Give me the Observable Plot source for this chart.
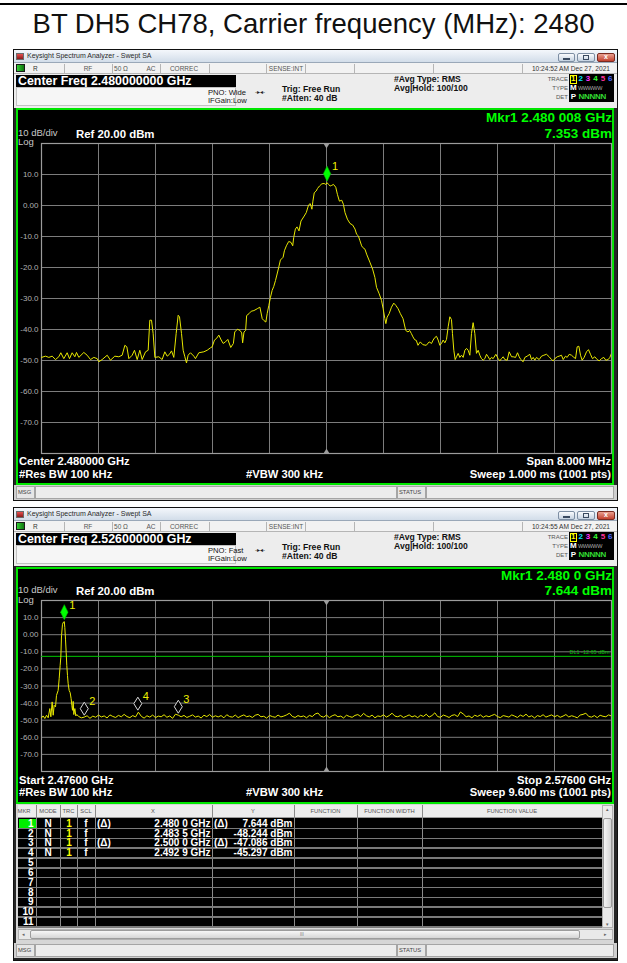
<!DOCTYPE html>
<html><head><meta charset="utf-8">
<script src="https://cdn.jsdelivr.net/npm/d3@7"></script>
<script src="https://cdn.jsdelivr.net/npm/@observablehq/plot@0.6"></script>
<style>
html,body{margin:0;padding:0;background:#fff;}
#page{position:relative;width:627px;height:963px;overflow:hidden;font-family:"Liberation Sans",Arial,sans-serif;}
.a{position:absolute;white-space:nowrap;box-sizing:border-box;}
</style></head><body><div id="page"></div>
<script>
// ================= DATA =================
const pageTitle = "BT DH5 CH78, Carrier frequency (MHz): 2480";
const levelTicks = [10, 0, -10, -20, -30, -40, -50, -60, -70];
const levelRange = [-80, 20];

// Screen 1 : center 2480 MHz, span 8 MHz  (frequency MHz, level dBm)
const span1 = [2476, 2484];
const trace1Low = [[2476.000,-49.0],[2476.056,-48.6],[2476.103,-49.0],[2476.150,-48.6],[2476.196,-49.7],[2476.243,-48.8],[2476.271,-47.5],[2476.313,-49.4],[2476.360,-47.5],[2476.393,-49.4],[2476.430,-47.5],[2476.468,-48.8],[2476.491,-47.4],[2476.524,-49.0],[2476.594,-47.4],[2476.641,-48.3],[2476.688,-49.7],[2476.734,-49.0],[2476.781,-49.4],[2476.805,-50.4],[2476.851,-49.7],[2476.922,-48.3],[2476.968,-49.9],[2477.029,-48.6],[2477.085,-48.8],[2477.132,-48.3],[2477.170,-45.1],[2477.198,-45.6],[2477.226,-49.4],[2477.273,-48.3],[2477.305,-46.7],[2477.343,-49.7],[2477.380,-46.7],[2477.413,-49.7],[2477.460,-47.2],[2477.497,-46.7],[2477.520,-37.0],[2477.544,-37.0],[2477.567,-41.3],[2477.591,-49.0],[2477.647,-48.8],[2477.693,-49.7],[2477.731,-47.2],[2477.764,-48.6],[2477.796,-48.0],[2477.825,-46.9],[2477.857,-49.0],[2477.890,-41.3],[2477.918,-35.4],[2477.937,-35.9],[2477.965,-41.3],[2477.988,-46.7],[2478.012,-48.8],[2478.035,-50.8],[2478.058,-48.3],[2478.091,-47.5],[2478.138,-48.6],[2478.161,-49.4],[2478.208,-47.5],[2478.278,-47.2],[2478.325,-46.7],[2478.372,-45.9],[2478.395,-45.6],[2478.428,-43.4],[2478.456,-42.9],[2478.489,-41.8],[2478.522,-43.4],[2478.550,-44.5],[2478.582,-44.0],[2478.615,-43.2]];
const trace1Main = [[2478.656,-45.8],[2478.693,-44.5],[2478.712,-40.8],[2478.749,-39.9],[2478.786,-40.3],[2478.810,-41.1],[2478.823,-44.3],[2478.842,-40.8],[2478.865,-40.3],[2478.879,-35.5],[2478.912,-34.9],[2478.944,-34.1],[2478.981,-33.9],[2479.028,-33.3],[2479.065,-32.8],[2479.098,-36.5],[2479.121,-37.1],[2479.149,-37.6],[2479.167,-34.9],[2479.191,-32.2],[2479.214,-29.6],[2479.237,-27.4],[2479.260,-26.1],[2479.284,-24.2],[2479.307,-22.1],[2479.330,-19.9],[2479.353,-17.6],[2479.391,-16.7],[2479.409,-14.6],[2479.437,-13.0],[2479.470,-11.6],[2479.502,-11.9],[2479.526,-13.0],[2479.540,-10.3],[2479.563,-7.6],[2479.586,-6.9],[2479.614,-8.2],[2479.642,-5.0],[2479.679,-3.7],[2479.716,-2.3],[2479.749,0.2],[2479.772,0.6],[2479.795,-1.2],[2479.809,1.4],[2479.828,4.1],[2479.856,4.7],[2479.874,5.5],[2479.902,6.3],[2479.935,7.0],[2479.967,7.1],[2479.991,6.8],[2480.008,7.353],[2480.028,6.8],[2480.051,6.3],[2480.074,6.5],[2480.098,6.8],[2480.130,5.9],[2480.153,3.6],[2480.181,1.4],[2480.214,1.7],[2480.237,0.4],[2480.260,-2.3],[2480.293,-4.4],[2480.330,-5.8],[2480.367,-6.3],[2480.400,-7.6],[2480.423,-9.3],[2480.447,-9.8],[2480.470,-11.4],[2480.493,-13.0],[2480.507,-13.5],[2480.540,-14.1],[2480.563,-15.7],[2480.609,-18.3],[2480.647,-20.5],[2480.679,-23.2],[2480.702,-26.4],[2480.740,-28.5],[2480.772,-30.6],[2480.795,-33.3],[2480.819,-36.5],[2480.833,-38.1],[2480.851,-36.0],[2480.879,-34.9],[2480.912,-32.8],[2480.944,-31.5],[2480.972,-32.2],[2481.005,-33.3],[2481.037,-34.9],[2481.074,-36.5],[2481.112,-40.3],[2481.144,-40.8],[2481.167,-40.3],[2481.191,-41.3],[2481.214,-42.4],[2481.237,-43.3],[2481.260,-43.5],[2481.284,-45.1],[2481.316,-44.0],[2481.353,-44.9],[2481.400,-45.1]];
const trace1High = [[2481.441,-44.0],[2481.474,-44.5],[2481.497,-43.4],[2481.520,-42.6],[2481.544,-42.2],[2481.567,-43.4],[2481.591,-45.1],[2481.614,-44.5],[2481.637,-43.4],[2481.661,-44.3],[2481.684,-43.2],[2481.708,-39.1],[2481.731,-35.9],[2481.754,-36.8],[2481.768,-41.3],[2481.787,-46.7],[2481.806,-49.7],[2481.825,-48.8],[2481.848,-47.7],[2481.871,-49.0],[2481.895,-48.3],[2481.918,-49.0],[2481.942,-46.7],[2481.965,-46.1],[2481.988,-46.7],[2482.012,-48.3],[2482.035,-41.3],[2482.058,-37.8],[2482.082,-41.3],[2482.105,-47.7],[2482.129,-46.7],[2482.152,-48.3],[2482.175,-49.4],[2482.199,-49.9],[2482.222,-49.4],[2482.246,-48.0],[2482.269,-48.8],[2482.292,-49.7],[2482.316,-49.0],[2482.339,-49.4],[2482.377,-48.0],[2482.409,-49.4],[2482.433,-50.1],[2482.456,-49.4],[2482.480,-48.8],[2482.503,-49.7],[2482.536,-49.9],[2482.564,-47.2],[2482.597,-48.8],[2482.620,-48.8],[2482.653,-49.0],[2482.681,-47.5],[2482.704,-48.8],[2482.727,-49.7],[2482.760,-50.4],[2482.784,-49.0],[2482.816,-48.6],[2482.854,-48.0],[2482.877,-49.7],[2482.901,-49.0],[2482.924,-49.9],[2482.947,-49.0],[2482.985,-49.7],[2483.018,-48.6],[2483.050,-48.3],[2483.088,-48.0],[2483.125,-48.8],[2483.158,-49.7],[2483.181,-50.1],[2483.205,-49.4],[2483.238,-48.8],[2483.265,-48.6],[2483.298,-48.3],[2483.322,-49.7],[2483.354,-48.6],[2483.378,-49.0],[2483.406,-48.0],[2483.439,-48.3],[2483.462,-48.8],[2483.495,-49.4],[2483.518,-45.6],[2483.542,-45.4],[2483.565,-48.3],[2483.588,-49.9],[2483.616,-49.0],[2483.649,-47.2],[2483.677,-46.5],[2483.705,-48.0],[2483.733,-49.4],[2483.766,-48.8],[2483.799,-49.7],[2483.827,-50.1],[2483.860,-49.4],[2483.892,-49.0],[2483.920,-49.9],[2483.953,-49.7],[2483.977,-49.0],[2484.000,-47.7]];
const marker1 = {id: "1", f: 2480.008, v: 7.353};

// Screen 2 : start 2476 MHz, stop 2576 MHz
const span2 = [2476, 2576];
const trace2Peak = [[2476.00,-48.6],[2476.29,-47.5],[2476.58,-49.0],[2476.88,-47.1],[2477.17,-48.6],[2477.46,-43.2],[2477.64,-48.0],[2477.87,-39.3],[2478.05,-47.1],[2478.22,-41.3],[2478.46,-42.2],[2478.63,-35.5],[2478.92,-32.6],[2479.10,-25.8],[2479.27,-18.1],[2479.39,-13.2],[2479.51,-0.7],[2479.68,6.1],[2479.86,7.4],[2480.00,7.644],[2480.09,4.2],[2480.21,-2.6],[2480.33,-10.3],[2480.44,-18.1],[2480.56,-23.9],[2480.68,-28.7],[2480.85,-32.6],[2481.03,-33.9],[2481.20,-37.4],[2481.32,-41.3],[2481.44,-44.2],[2481.56,-39.0],[2481.67,-46.7],[2481.85,-43.2],[2482.02,-47.5],[2482.20,-46.7]];
const floorStart = 2482.5, floorStep = 0.5;   // sweep points every 0.5 MHz from 2482.5 MHz
const trace2Floor = [
 -47.8,-48.6,-48.2,-47.4,-48.9,-47.6,-48.3,-47.0,-48.1,-47.5,
 -48.7,-46.9,-47.8,-48.4,-47.2,-48.0,-46.6,-47.9,-48.5,-47.3,
 -48.1,-45.3,-47.7,-48.8,-47.4,-48.2,-47.0,-48.5,-47.6,-48.0,
 -46.8,-48.3,-47.5,-48.9,-46.5,-47.086,-48.0,-47.2,-48.4,-47.7,
 -46.9,-48.2,-47.6,-48.7,-47.1,-47.9,-46.7,-48.3,-47.4,-48.1,
 -47.3,-48.6,-46.8,-47.9,-48.2,-47.0,-48.5,-47.6,-46.9,-48.0,
 -47.5,-48.4,-47.1,-46.6,-48.0,-47.7,-48.8,-47.2,-47.9,-48.3,
 -47.0,-48.1,-47.6,-46.9,-45.9,-47.8,-48.4,-47.3,-48.0,-47.5,
 -48.6,-47.2,-47.9,-46.4,-45.8,-47.7,-48.2,-47.0,-48.5,-47.4,
 -46.8,-48.0,-47.6,-48.7,-47.1,-47.8,-48.3,-47.2,-46.7,-47.9,
 -46.0,-47.4,-48.1,-47.0,-48.6,-47.5,-47.9,-46.8,-48.2,-47.3,
 -45.9,-47.6,-48.0,-47.2,-48.4,-47.7,-46.9,-48.1,-47.4,-48.5,
 -47.1,-47.8,-46.5,-48.2,-47.3,-45.7,-47.9,-48.3,-47.0,-47.6,
 -48.4,-47.2,-46.8,-47.9,-45.2,-46.4,-48.0,-47.5,-48.6,-47.1,
 -47.8,-46.9,-48.3,-47.4,-48.0,-47.2,-46.6,-47.9,-48.5,-47.3,
 -47.7,-48.2,-46.9,-47.6,-48.4,-47.0,-47.8,-46.5,-48.1,-47.4,
 -48.7,-47.3,-47.9,-46.8,-48.2,-47.5,-46.9,-48.0,-47.2,-48.3,
 -47.6,-46.7,-48.1,-47.4,-47.9,-48.6,-47.0,-46.6,-45.9,-47.8,
 -48.2,-47.3,-48.5,-47.1,-47.7,-48.0,-46.9,-47.6];
const displayLine = -12.65;
const markers2 = [
  {id: "1", f: 2480.0, v: 7.644, delta: true},
  {id: "2", f: 2483.5, v: -48.244, delta: false},
  {id: "3", f: 2500.0, v: -47.086, delta: true},
  {id: "4", f: 2492.9, v: -45.297, delta: false}
];

// ================= HELPERS =================
const W = 627;
const page = document.getElementById("page");
function box(x, y, w, h, st) {
  const d = document.createElement("div"); d.className = "a";
  Object.assign(d.style, {left: x + "px", top: y + "px", width: w + "px", height: h + "px"}, st || {});
  page.appendChild(d); return d;
}
function txt(x, yc, s, o = {}) {
  const size = o.size || 8, lh = size * 1.15;
  const d = document.createElement("div"); d.className = "a"; d.textContent = s;
  Object.assign(d.style, {top: (yc - lh / 2) + "px", lineHeight: lh + "px", fontSize: size + "px",
    color: o.color || "#000", fontWeight: o.bold ? "bold" : "normal"});
  if (o.family) d.style.fontFamily = o.family;
  if (o.ls) d.style.letterSpacing = o.ls;
  if (o.align === "right") d.style.right = (W - x) + "px";
  else if (o.align === "center") {
    const half = Math.max(4, Math.min(x, W - x, o.half || 150));
    d.style.left = (x - half) + "px"; d.style.width = (2 * half) + "px"; d.style.textAlign = "center";
  }
  else d.style.left = x + "px";
  page.appendChild(d); return d;
}
const fmtGHz = (f, dec) => { const s = (f / 1000).toFixed(dec); return s.slice(0, 5) + " " + s.slice(5); };
const fmtLevel = d => d === 0 ? "0.00" : d.toFixed(1);

// ================= PAGE TITLE =================
box(0, 3, W, 2, {background: "#000"});
txt(313.5, 23.5, pageTitle, {size: 27.5, align: "center", color: "#111", half: 320});

// ================= ANALYZER WINDOW CHROME =================
function windowChrome(T, o) {
  box(13, 49 + T, 605, o.bottom - (49 + T), {background: "#262626", border: "1px solid #111"});
  box(14, 50 + T, 603, 13, {background: "linear-gradient(#f4f7fb,#d2dde9)", borderBottom: "1px solid #9aa8b8"});
  box(16, 53 + T, 8, 7, {background: "linear-gradient(#e85050,#8a1c1c)", border: "1px solid #6a6a6a"});
  txt(27, 56.5 + T, "Keysight Spectrum Analyzer - Swept SA", {size: 7, color: "#2a2a2a"});
  box(558, 53 + T, 17, 9, {background: "linear-gradient(#fbfcfe,#c5d2e1)", border: "1px solid #7d8ea3", borderRadius: "2px"});
  box(577, 53 + T, 18, 9, {background: "linear-gradient(#fbfcfe,#c5d2e1)", border: "1px solid #7d8ea3", borderRadius: "2px"});
  box(597, 53 + T, 18, 9, {background: "linear-gradient(#eaa090,#c2402e)", border: "1px solid #7a2a20", borderRadius: "2px"});
  box(563, 58 + T, 7, 2, {background: "#3a4a60"});
  box(583, 55 + T, 6, 5, {border: "1px solid #3a4a60"});
  txt(606, 57.5 + T, "x", {size: 7, bold: true, color: "#fff", align: "center"});
  // status row
  box(14, 63 + T, 603, 11, {background: "#f2f2f2", borderBottom: "1px solid #b5b5b5"});
  [64, 112, 160, 209, 266, 305, 354, 433, 522].forEach(x => box(x, 64 + T, 1, 9, {background: "#b5b5b5"}));
  box(16, 64 + T, 9, 8, {background: "#1a1a1a"});
  box(17, 65 + T, 7, 6, {background: "linear-gradient(90deg,#33cc33,#117711)"});
  txt(33, 68.5 + T, "R", {size: 6.5, color: "#333"});
  [["RF", 88], ["50 Ω", 121], ["AC", 151], ["CORREC", 184], ["SENSE:INT", 286]].forEach(([s, x]) => txt(x, 68.5 + T, s, {size: 6.5, color: "#555", align: "center", half: 24}));
  txt(610, 68.5 + T, o.time, {size: 6.6, color: "#333", align: "right"});
  // measurement bar
  box(14, 74 + T, 603, 34, {background: "#ededed"});
  box(16, 75 + T, 220, 12, {background: "#000"});
  txt(18, 81 + T, o.centerFreq, {size: 12.4, bold: true, color: "#fff"});
  box(16, 87 + T, 220, 19, {background: "#f6f6f6", border: "1px solid #c2c2c2"});
  txt(208, 93 + T, o.pno, {size: 7.6, color: "#111"});
  txt(208, 101.5 + T, "IFGain:Low", {size: 7.6, color: "#111"});
  txt(255, 92.5 + T, "-▸◂-", {size: 6, color: "#222"});
  txt(282, 90 + T, "Trig: Free Run", {size: 8.6, bold: true, color: "#111"});
  txt(282, 99 + T, "#Atten: 40 dB", {size: 8.6, bold: true, color: "#111"});
  txt(394, 80 + T, "#Avg Type: RMS", {size: 8.6, bold: true, color: "#111"});
  txt(394, 89 + T, "Avg|Hold: 100/100", {size: 8.6, bold: true, color: "#111"});
  txt(568, 79 + T, "TRACE", {size: 6, color: "#555", align: "right"});
  txt(568, 88 + T, "TYPE", {size: 6, color: "#555", align: "right"});
  txt(568, 97 + T, "DET", {size: 6, color: "#555", align: "right"});
  box(569, 74 + T, 45, 28, {background: "#000"});
  const tc = ["#ffff00", "#00e5ff", "#ff33ff", "#33ff33", "#ff3399", "#4d6bff"];
  tc.forEach((c, i) => txt(573.3 + 7.4 * i, 79 + T, String(i + 1), {size: 8, bold: true, color: c, align: "center", half: 3.5}));
  box(570, 74.5 + T, 7, 9, {border: "1px solid #ffff00"});
  txt(573.3, 88 + T, "M", {size: 8, bold: true, color: "#fff", align: "center", half: 4});
  txt(578, 88 + T, "WWWWW", {size: 5.5, color: "#aaa", ls: "-0.4px"});
  txt(573.3, 97 + T, "P", {size: 8, bold: true, color: "#fff", align: "center", half: 4});
  txt(578.5, 97 + T, "NNNNN", {size: 8, bold: true, color: "#33dd33", ls: "-0.3px"});
  // display area
  box(16, o.dispTop, 598, o.dispBottom - o.dispTop, {background: "#000", border: "2px solid #00e600"});
  txt(612, o.mkrY, o.mkrLine1, {size: 13.5, bold: true, color: "#00ff00", align: "right"});
  txt(612, o.mkrY + o.mkrGap, o.mkrLine2, {size: 13.5, bold: true, color: "#00ff00", align: "right"});
  txt(18, o.refY - 1.5, "10 dB/div", {size: 9.5, color: "#c8c8c8"});
  txt(76, o.refY, "Ref 20.00 dBm", {size: 11.4, bold: true, color: "#fff"});
  txt(18, o.refY + 8, "Log", {size: 9.5, color: "#c8c8c8"});
  txt(19, o.botY, o.botLeft, {size: 11.2, bold: true, color: "#fff"});
  txt(611, o.botY, o.botRight, {size: 11.2, bold: true, color: "#fff", align: "right"});
  txt(19, o.botY + 12.5, "#Res BW 100 kHz", {size: 11.2, bold: true, color: "#fff"});
  txt(246, o.botY + 12.5, "#VBW 300 kHz", {size: 11.2, bold: true, color: "#fff"});
  txt(611, o.botY + 12.5, o.sweep, {size: 11.2, bold: true, color: "#fff", align: "right"});
  // message bar
  const m = o.msgTop;
  box(14, m, 603, 15, {background: "#cfcfcf"});
  box(16, m + 1, 19, 13, {background: "#e6e6e6", border: "1px solid #a5a5a5"});
  box(35, m + 1, 362, 13, {background: "#ececec", border: "1px solid #a5a5a5"});
  box(397, m + 1, 29, 13, {background: "#e6e6e6", border: "1px solid #a5a5a5"});
  box(426, m + 1, 188, 13, {background: "#ececec", border: "1px solid #a5a5a5"});
  txt(18, m + 7.5, "MSG", {size: 5.8, color: "#444"});
  txt(399, m + 7.5, "STATUS", {size: 5.8, color: "#444"});
}

windowChrome(0, {
  bottom: 501, time: "10:24:52 AM Dec 27, 2021", centerFreq: "Center Freq 2.480000000 GHz", pno: "PNO: Wide",
  dispTop: 108, dispBottom: 485, mkrY: 118, mkrGap: 15.5, refY: 134.5,
  mkrLine1: "Mkr1 " + fmtGHz(marker1.f, 6) + " GHz", mkrLine2: marker1.v.toFixed(3) + " dBm",
  botY: 461.5, botLeft: "Center 2.480000 GHz", botRight: "Span 8.000 MHz", sweep: "Sweep  1.000 ms (1001 pts)",
  msgTop: 485
});
windowChrome(458, {
  bottom: 961, time: "10:24:55 AM Dec 27, 2021", centerFreq: "Center Freq 2.526000000 GHz", pno: "PNO: Fast",
  dispTop: 567, dispBottom: 804, mkrY: 576, mkrGap: 14.5, refY: 592,
  mkrLine1: "Mkr1 " + fmtGHz(markers2[0].f, 4) + " GHz", mkrLine2: markers2[0].v.toFixed(3) + " dBm",
  botY: 780, botLeft: "Start 2.47600 GHz", botRight: "Stop 2.57600 GHz", sweep: "Sweep  9.600 ms (1001 pts)",
  msgTop: 943
});

// ================= MARKER TABLE (screen 2) =================
(function table() {
  const top = 804, head = 13, rowH = 9.83, nRows = 11;
  box(16, top, 598, 140, {background: "#d6d6d6"});
  box(18, top + 1, 584, head, {background: "#ececec", borderBottom: "1px solid #9a9a9a"});
  box(18, top + head + 1, 584, nRows * rowH + 2, {background: "#000"});
  const cols = [36, 60, 77, 95, 212, 294, 357, 422];
  cols.forEach(x => box(x, top + 1, 1, head + nRows * rowH + 2, {background: "#8a8a8a"}));
  for (let r = 1; r <= nRows; r++) box(18, top + head + 1 + r * rowH, 584, 1.4, {background: "#7a7a7a"});
  const hy = top + 7.5;
  [["MKR", 24], ["MODE", 48], ["TRC", 68.5], ["SCL", 86], ["X", 153], ["Y", 253], ["FUNCTION", 325.5], ["FUNCTION WIDTH", 389.5], ["FUNCTION VALUE", 512]]
    .forEach(([s, x]) => txt(x, hy, s, {size: 5.8, color: "#555", align: "center", half: 40}));
  // vertical scrollbar
  box(602, top + 1, 11, head + nRows * rowH + 2, {background: "#e9e9e9", border: "1px solid #b0b0b0"});
  box(603, top + 14, 9, 90, {background: "linear-gradient(90deg,#f4f4f4,#d5d5d5)", border: "1px solid #9c9c9c", borderRadius: "2px"});
  txt(607.5, top + 6, "▴", {size: 5, color: "#666", align: "center", half: 5});
  txt(607.5, top + 121, "▾", {size: 5, color: "#666", align: "center", half: 5});
  // horizontal scrollbar
  box(18, 929, 595, 11, {background: "#e9e9e9", border: "1px solid #b0b0b0"});
  box(30, 930, 550, 9, {background: "linear-gradient(#f6f6f6,#d6d6d6)", border: "1px solid #9c9c9c", borderRadius: "2px"});
  txt(22, 934.5, "◂", {size: 5, color: "#666"});
  txt(604, 934.5, "▸", {size: 5, color: "#666"});
  txt(302, 934.5, "III", {size: 4.5, color: "#777", align: "center", half: 10});
  // rows
  for (let r = 0; r < nRows; r++) {
    const yc = top + head + 1 + rowH * r + rowH / 2 + 0.6;
    if (r === 0) box(19, top + head + 2, 17, rowH - 0.8, {background: "#00ee00"});
    txt(33.5, yc, String(r + 1), {size: 10, bold: true, color: "#fff", align: "right"});
    const mk = markers2[r];
    if (!mk) continue;
    txt(48, yc, "N", {size: 10, bold: true, color: "#fff", align: "center", half: 10});
    txt(69, yc, "1", {size: 10, bold: true, color: "#ffff00", align: "center", half: 7});
    txt(86, yc, "f", {size: 10, bold: true, color: "#fff", align: "center", half: 7});
    if (mk.delta) { txt(97, yc, "(Δ)", {size: 10, bold: true, color: "#fff"}); txt(214, yc, "(Δ)", {size: 10, bold: true, color: "#fff"}); }
    txt(210.5, yc, fmtGHz(mk.f, 4) + " GHz", {size: 10, bold: true, color: "#fff", align: "right"});
    txt(292.5, yc, mk.v.toFixed(3) + " dBm", {size: 10, bold: true, color: "#fff", align: "right"});
  }
})();

// ================= PLOTS =================
const tallDiamond = {draw(c) { c.moveTo(0, -7.5); c.lineTo(3.7, 0); c.lineTo(0, 7.5); c.lineTo(-3.7, 0); c.closePath(); }};
const openDiamond = {draw(c) { c.moveTo(0, -6.5); c.lineTo(4, 0); c.lineTo(0, 6.5); c.lineTo(-4, 0); c.closePath(); }};
const triDown = {draw(c) { c.moveTo(-3, 0); c.lineTo(3, 0); c.lineTo(0, 5); c.closePath(); }};
const triUp = {draw(c) { c.moveTo(-3, 0); c.lineTo(3, 0); c.lineTo(0, -5); c.closePath(); }};
const levelGrid = d3.range(levelRange[0], levelRange[1] + 1, 10);

function screen(o) {
  const xDivs = d3.range(11).map(i => o.span[0] + i * (o.span[1] - o.span[0]) / 10);
  const mid = (o.span[0] + o.span[1]) / 2;
  const svg = Plot.plot({
    width: W, height: o.height,
    marginLeft: 41, marginRight: 16, marginTop: 5, marginBottom: 5,
    style: {background: "transparent", color: "#b0b0b0", fontFamily: "Liberation Sans, Arial, sans-serif", overflow: "visible"},
    x: {domain: o.span, axis: null},
    y: {domain: levelRange, axis: null},
    marks: [
      Plot.ruleX(xDivs, {stroke: "#7c7c7c", strokeWidth: 1}),
      Plot.ruleY(levelGrid, {stroke: "#7c7c7c", strokeWidth: 1}),
      Plot.frame({stroke: "#9c9c9c", strokeWidth: 1.2}),
      Plot.text(levelTicks, {x: o.span[0], y: d => d, text: fmtLevel, dx: -3, textAnchor: "end", fontSize: 8, fill: "#b0b0b0"}),
      Plot.dot([mid], {x: d => d, frameAnchor: "top", symbol: triDown, fill: "#9c9c9c", stroke: "none"}),
      Plot.dot([mid], {x: d => d, frameAnchor: "bottom", symbol: triUp, fill: "#9c9c9c", stroke: "none"}),
      ...(o.extra || []),
      Plot.line(o.trace, {x: d => d[0], y: d => d[1], stroke: "#e8e800", strokeWidth: 1, clip: true}),
      Plot.dot(o.markers.filter(m => m.id === "1"), {x: "f", y: "v", symbol: tallDiamond, fill: "#00ff00", stroke: "#00bb00", strokeWidth: 0.6, dy: o.mdy}),
      Plot.dot(o.markers.filter(m => m.id !== "1"), {x: "f", y: "v", symbol: openDiamond, fill: "#000", stroke: "#d8d8d8", strokeWidth: 1, dy: -8.5}),
      Plot.text(o.markers, {x: "f", y: "v", text: "id", dx: 8, dy: -16, fill: "#f0f000", fontSize: 11, textAnchor: "middle"})
    ]
  });
  Object.assign(svg.style, {position: "absolute", left: "0px", top: o.top + "px"});
  page.appendChild(svg);
}

screen({span: span1, top: 138, height: 320, trace: [...trace1Low, ...trace1Main, ...trace1High], markers: [marker1], mdy: -9});
screen({span: span2, top: 595, height: 181,
  trace: [...trace2Peak, ...trace2Floor.map((v, i) => [floorStart + i * floorStep, v])],
  markers: markers2, mdy: -9.5,
  extra: [
    Plot.ruleY([displayLine], {stroke: "#00c800", strokeWidth: 1}),
    Plot.text([displayLine], {x: span2[1], y: d => d, text: d => "DL1 " + d.toFixed(2) + " dBm", dx: -2, dy: -4, textAnchor: "end", fontSize: 5.5, fill: "#00c800"})
  ]});
</script>
</body></html>
